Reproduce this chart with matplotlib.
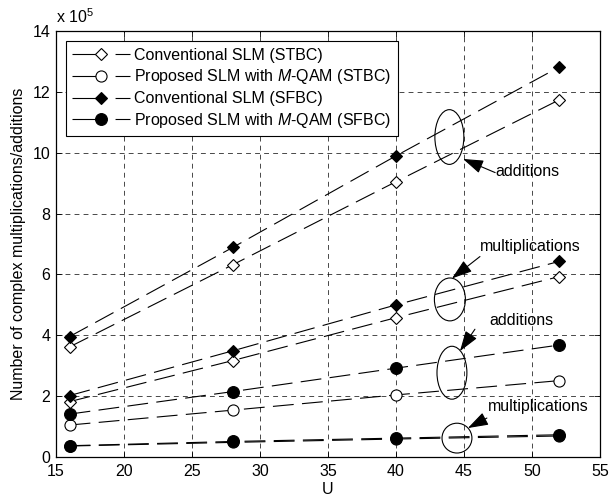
import matplotlib
matplotlib.use('Agg')
import matplotlib.pyplot as plt
from matplotlib.lines import Line2D
from matplotlib.patches import Ellipse

plt.rcParams['font.family'] = ['Liberation Sans', 'DejaVu Sans']
plt.rcParams['mathtext.fontset'] = 'custom'
plt.rcParams['mathtext.rm'] = 'Liberation Sans'
plt.rcParams['mathtext.it'] = 'Liberation Sans:italic'
plt.rcParams['lines.scale_dashes'] = False

# Data (values in units of 10^5)
U = [16, 28, 40, 52]
conv_stbc_add = [3.62, 6.32, 9.05, 11.74]
conv_stbc_mul = [1.82, 3.17, 4.58, 5.93]
conv_sfbc_add = [3.96, 6.89, 9.90, 12.82]
conv_sfbc_mul = [2.02, 3.49, 5.00, 6.43]
prop_stbc_add = [1.05, 1.54, 2.04, 2.51]
prop_stbc_mul = [0.36, 0.48, 0.59, 0.69]
prop_sfbc_add = [1.41, 2.15, 2.92, 3.68]
prop_sfbc_mul = [0.37, 0.51, 0.62, 0.73]

labels = ['Conventional SLM (STBC)',
          'Proposed SLM with $\\mathit{M}$-QAM (STBC)',
          'Conventional SLM (SFBC)',
          'Proposed SLM with $\\mathit{M}$-QAM (SFBC)']

FS = 11.5

fig = plt.figure(figsize=(6.09, 5.03), dpi=100)
ax = fig.add_axes([0.092, 0.0915, 0.893, 0.8465])

dash = (0, (15, 6))
styles = [
    dict(marker='D', ms=6, mfc='white', mec='black'),
    dict(marker='o', ms=8, mfc='white', mec='black'),
    dict(marker='D', ms=6, mfc='black', mec='black'),
    dict(marker='o', ms=8.5, mfc='black', mec='black'),
]
series = [(conv_stbc_add, conv_stbc_mul), (prop_stbc_add, prop_stbc_mul),
          (conv_sfbc_add, conv_sfbc_mul), (prop_sfbc_add, prop_sfbc_mul)]

for (add, mul), st in zip(series, styles):
    ax.plot(U, add, color='black', lw=0.8, ls=dash, mew=0.8, **st)
    ax.plot(U, mul, color='black', lw=0.8, ls=dash, mew=0.8, **st)

ax.set_xlim(15, 55)
ax.set_ylim(0, 14)
ax.set_xticks(range(15, 56, 5))
ax.set_yticks(range(0, 15, 2))
ax.tick_params(direction='in', top=True, right=True, labelsize=FS, length=4, width=0.6)
ax.tick_params(axis='x', pad=5)
ax.tick_params(axis='y', pad=4)
ax.grid(True, color='black', ls=(0, (3.5, 3)), lw=0.5)
for s in ax.spines.values():
    s.set_linewidth(0.9)

ax.set_xlabel('U', fontsize=FS, labelpad=2)
ax.set_ylabel('Number of complex multiplications/additions', fontsize=FS, labelpad=5)
ax.text(0, 1.012, 'x 10$^5$', transform=ax.transAxes, fontsize=FS, va='bottom')

# legend
handles = [Line2D([], [], color='black', lw=0.8, ls=(0, (18.5, 12.5, 11, 5)), mew=0.8, **st)
           for st in styles]
leg = ax.legend(handles, labels, loc='upper left', bbox_to_anchor=(0.018, 0.9765),
                borderaxespad=0, fontsize=FS, handlelength=3.6, handletextpad=0.3,
                labelspacing=0.3, fancybox=False, framealpha=1, edgecolor='black',
                borderpad=0.4)
leg.get_frame().set_linewidth(0.8)

# ellipses
for (cx, cy, w, h) in [(43.93, 10.52, 2.13, 1.8), (43.97, 5.18, 2.28, 1.41),
                       (44.12, 2.77, 2.2, 1.74), (44.49, 0.62, 2.2, 0.98)]:
    ax.add_patch(Ellipse((cx, cy), w, h, fill=False, ec='black', lw=0.8, zorder=5))

arrow = dict(arrowstyle='-|>,head_length=0.9,head_width=0.3', color='black', lw=0.8,
             mutation_scale=14, shrinkA=0, shrinkB=0)
ax.annotate('', xy=(44.93, 9.80), xytext=(47.3, 9.35), arrowprops=arrow)
ax.text(47.3, 9.38, 'additions', fontsize=FS, va='center', ha='left')
ax.annotate('', xy=(44.12, 5.87), xytext=(46.18, 6.59), arrowprops=arrow)
ax.text(46.18, 6.92, 'multiplications', fontsize=FS, va='center', ha='left')
ax.annotate('', xy=(44.71, 3.48), xytext=(45.81, 4.2), arrowprops=arrow)
ax.text(46.9, 4.49, 'additions', fontsize=FS, va='center', ha='left')
ax.annotate('', xy=(45.29, 0.95), xytext=(46.69, 1.28), arrowprops=arrow)
ax.text(46.76, 1.67, 'multiplications', fontsize=FS, va='center', ha='left')

fig.savefig('out.png', dpi=100)
